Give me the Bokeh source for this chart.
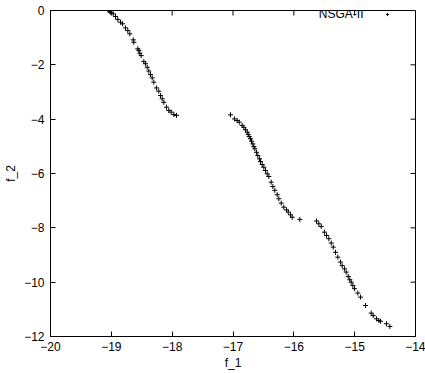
from bokeh.plotting import figure
from bokeh.models import FixedTicker, Range1d, Label, Legend, LegendItem, ColumnDataSource
from bokeh.embed import file_html
from bokeh.resources import INLINE
from bokeh.core.properties import value

# Pareto front points (NSGA-II)
f1 = [-19.05, -19.03, -19.014, -18.969, -18.931, -18.894, -18.849, -18.816, -18.767, -18.729, -18.696,
      -18.64, -18.631, -18.565, -18.548, -18.532, -18.509, -18.466, -18.438, -18.41, -18.384,
      -18.356, -18.328, -18.302, -18.257, -18.22, -18.192, -18.164, -18.137, -18.093, -18.055,
      -18.016, -17.973, -17.929,
      -17.041, -16.975, -16.931, -16.898, -16.849, -16.822, -16.794, -16.766, -16.75, -16.733,
      -16.712, -16.696, -16.674, -16.658, -16.641, -16.614, -16.592, -16.564, -16.548, -16.52,
      -16.493, -16.466, -16.438, -16.411, -16.372, -16.345, -16.313, -16.273, -16.247, -16.207,
      -16.165, -16.12, -16.092, -16.055, -16.027, -15.902,
      -15.627, -15.589, -15.55, -15.496, -15.463, -15.425, -15.385, -15.352, -15.315, -15.277,
      -15.233, -15.205, -15.167, -15.139, -15.106, -15.08, -15.057, -15.03, -15.002, -14.948,
      -14.904, -14.822, -14.728, -14.695, -14.641, -14.603, -14.575, -14.477, -14.422]
f2 = [0.0, -0.02, -0.063, -0.12, -0.22, -0.33, -0.43, -0.49, -0.64, -0.74, -0.86,
      -1.08, -1.17, -1.41, -1.47, -1.57, -1.66, -1.88, -1.96, -2.09, -2.23,
      -2.36, -2.48, -2.64, -2.85, -2.97, -3.13, -3.25, -3.38, -3.56, -3.68,
      -3.74, -3.83, -3.86,
      -3.84, -3.99, -4.05, -4.11, -4.23, -4.30, -4.39, -4.48, -4.56, -4.64,
      -4.72, -4.81, -4.91, -5.01, -5.09, -5.22, -5.34, -5.46, -5.56, -5.67,
      -5.77, -5.89, -6.01, -6.11, -6.32, -6.48, -6.62, -6.78, -6.93, -7.09,
      -7.24, -7.34, -7.42, -7.52, -7.61, -7.69,
      -7.75, -7.85, -7.95, -8.16, -8.28, -8.40, -8.56, -8.71, -8.90, -9.08,
      -9.26, -9.39, -9.51, -9.63, -9.79, -9.91, -10.0, -10.12, -10.24, -10.40,
      -10.55, -10.86, -11.14, -11.23, -11.35, -11.41, -11.44, -11.53, -11.63]

x_ticks = [-20, -19, -18, -17, -16, -15, -14]
y_ticks = [0, -2, -4, -6, -8, -10, -12]
series_name = "NSGA-II"

FONT = "Liberation Sans"
FS = "12px"

W, H = 425, 373
BL, BR, BT, BB = 50, 10, 10, 37
X0, X1, Y0, Y1 = -20, -14, -12, 0
TICK = 5  # px

p = figure(width=W, height=H, output_backend="svg", toolbar_location=None,
           x_range=Range1d(X0, X1), y_range=Range1d(Y0, Y1),
           min_border_left=BL, min_border_right=BR, min_border_top=BT, min_border_bottom=BB)
p.xgrid.visible = False
p.ygrid.visible = False
p.outline_line_color = "black"
p.outline_line_width = 1
p.background_fill_color = "white"
p.border_fill_color = "white"

src = ColumnDataSource(dict(x=f1, y=f2))
r = p.scatter("x", "y", source=src, marker="cross", size=5, line_color="black", line_width=1)

def style(ax):
    ax.axis_line_color = "black"
    ax.major_tick_in = TICK
    ax.major_tick_out = 0
    ax.major_tick_line_color = "black"
    ax.minor_tick_line_color = None
    ax.major_label_text_font = FONT
    ax.major_label_text_color = "black"
    ax.major_label_text_font_size = FS
    ax.axis_label_text_font = FONT
    ax.axis_label_text_font_size = FS
    ax.axis_label_text_font_style = "normal"
    ax.axis_label_text_color = "black"

xa = p.xaxis[0]
xa.ticker = FixedTicker(ticks=x_ticks)
style(xa)
xa.major_label_standoff = 5
xa.axis_label = "f_1"
xa.axis_label_standoff = 2

ya = p.yaxis[0]
ya.ticker = FixedTicker(ticks=y_ticks)
style(ya)
ya.major_label_standoff = 6
ya.axis_label = "f_2"
ya.axis_label_standoff = 3

# mirrored inward ticks on top and right edges (gnuplot style)
fw = W - BL - BR
fh = H - BT - BB
dx = TICK * (X1 - X0) / fw
dy = TICK * (Y1 - Y0) / fh
tx = x_ticks[1:-1]
p.segment(x0=tx, x1=tx, y0=[Y1] * len(tx), y1=[Y1 - dy] * len(tx), line_color="black", line_width=1)
ty = y_ticks[1:-1]
p.segment(x0=[X1] * len(ty), x1=[X1 - dx] * len(ty), y0=ty, y1=ty, line_color="black", line_width=1)

p.add_layout(Label(x=313, y=323, x_units="screen", y_units="screen", text=series_name,
                   text_font=FONT, text_font_size=FS, text_align="right",
                   text_baseline="middle", text_color="black"))

leg = Legend(items=[LegendItem(label=value(""), renderers=[r])], location=(333, 318),
             padding=0, margin=0, spacing=0, glyph_width=8, glyph_height=8,
             label_width=0, label_height=8, label_standoff=0, label_text_font_size="8px",
             border_line_color=None, background_fill_alpha=0)
p.add_layout(leg, "center")

open("out.html", "w").write(file_html(p, INLINE))
